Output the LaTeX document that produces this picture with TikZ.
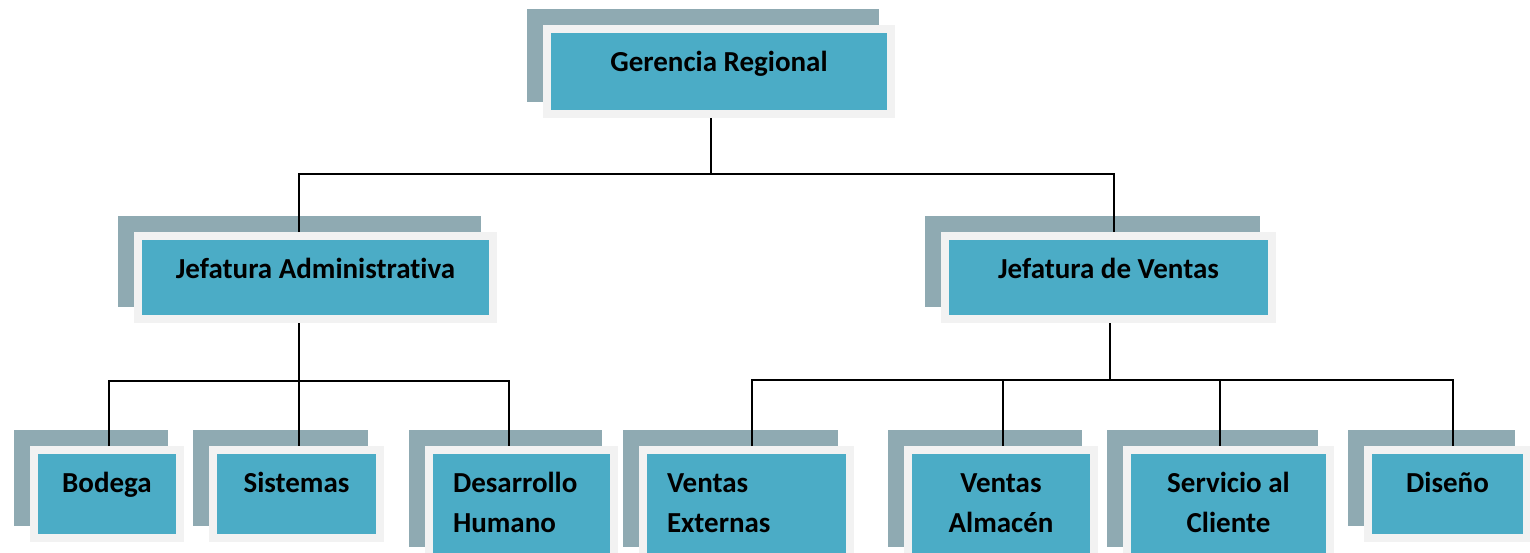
\documentclass[tikz,border=0pt]{standalone}
\usepackage{fontspec}
\setmainfont{Carlito}[Ligatures=NoCommon]
\usepackage{xcolor}
\usetikzlibrary{calc,positioning}
\definecolor{boxblue}{RGB}{75, 172, 198}
\definecolor{shadowgrey}{RGB}{143, 170, 178}
\definecolor{framegrey}{RGB}{242, 242, 242}
\tikzset{
  orgbox/.style={anchor=north west, fill=boxblue, draw=framegrey, line width=8pt,
    inner xsep=0pt, inner ysep=0pt, outer sep=0pt, text height=42pt, align=flush center,
    font=\fontsize{29}{40}\selectfont\bfseries,
    preaction={draw=shadowgrey, fill=shadowgrey, transform canvas={shift={(-16pt,16pt)}}}},
  leftbox/.style={orgbox, align=flush left, inner xsep=24pt},
  conn/.style={draw=black, line width=2pt, shorten <=4pt, shorten >=4pt}
}

\begin{document}
\begin{tikzpicture}[x=1pt,y=-1pt]
  \path[use as bounding box, clip] (0,0) rectangle (1530,552);
  % level 0
  \node[orgbox, minimum width=344pt, minimum height=85pt, text depth=43pt] (gerencia) at (547,29) {Gerencia Regional};
  % level 1
  \node[orgbox, minimum width=355pt, minimum height=83pt, text depth=41pt] (jadmin) at (138,236) {Jefatura Administrativa};
  \node[orgbox, minimum width=327pt, minimum height=83pt, text depth=41pt] (jventas) at (945,236) {Jefatura de Ventas};
  % level 2
  \node[orgbox, minimum width=146pt, minimum height=88pt, text depth=46pt] (bodega) at (34,450) {Bodega};
  \node[orgbox, minimum width=167pt, minimum height=88pt, text depth=46pt] (sistemas) at (213,450) {Sistemas};
  \node[leftbox, text width=137pt, minimum height=109pt, text depth=67pt] (desarrollo) at (429,450) {Desarrollo\\Humano};
  \node[leftbox, text width=159pt, minimum height=109pt, text depth=67pt] (vexternas) at (643,450) {Ventas\\Externas};
  \node[orgbox, text width=186pt, minimum height=109pt, text depth=67pt] (valmacen) at (908,450) {Ventas\\Almacén};
  \node[orgbox, text width=203pt, minimum height=109pt, text depth=67pt] (servicio) at (1127,450) {Servicio al\\Cliente};
  \node[orgbox, minimum width=159pt, minimum height=88pt, text depth=46pt] (diseno) at (1368,450) {Diseño};

  % bus points
  \coordinate (top-bus) at (711,174);
  \coordinate (ja-in) at (299,174);
  \coordinate (jv-in) at (1114,174);
  \coordinate (ja-out) at (299,381);
  \coordinate (a1) at (109,381);
  \coordinate (a3) at (509,381);
  \coordinate (jv-out) at (1110,380);
  \coordinate (v1) at (752,380);
  \coordinate (v2) at (1003,380);
  \coordinate (v3) at (1220,380);
  \coordinate (v4) at (1453,380);

  % connectors
  \draw[conn, shorten >=0pt] (gerencia.south -| top-bus) -- (top-bus);
  \draw[conn] (ja-in |- jadmin.north) -- (ja-in) -- (jv-in) -- (jv-in |- jventas.north);
  \draw[conn] (jadmin.south -| ja-out) -- (ja-out |- sistemas.north);
  \draw[conn] (a1 |- bodega.north) -- (a1) -- (a3) -- (a3 |- desarrollo.north);
  \draw[conn, shorten >=0pt] (jventas.south -| jv-out) -- (jv-out);
  \draw[conn] (v1 |- vexternas.north) -- (v1) -- (v4) -- (v4 |- diseno.north);
  \draw[conn, shorten <=0pt] (v2) -- (v2 |- valmacen.north);
  \draw[conn, shorten <=0pt] (v3) -- (v3 |- servicio.north);
\end{tikzpicture}
\end{document}
